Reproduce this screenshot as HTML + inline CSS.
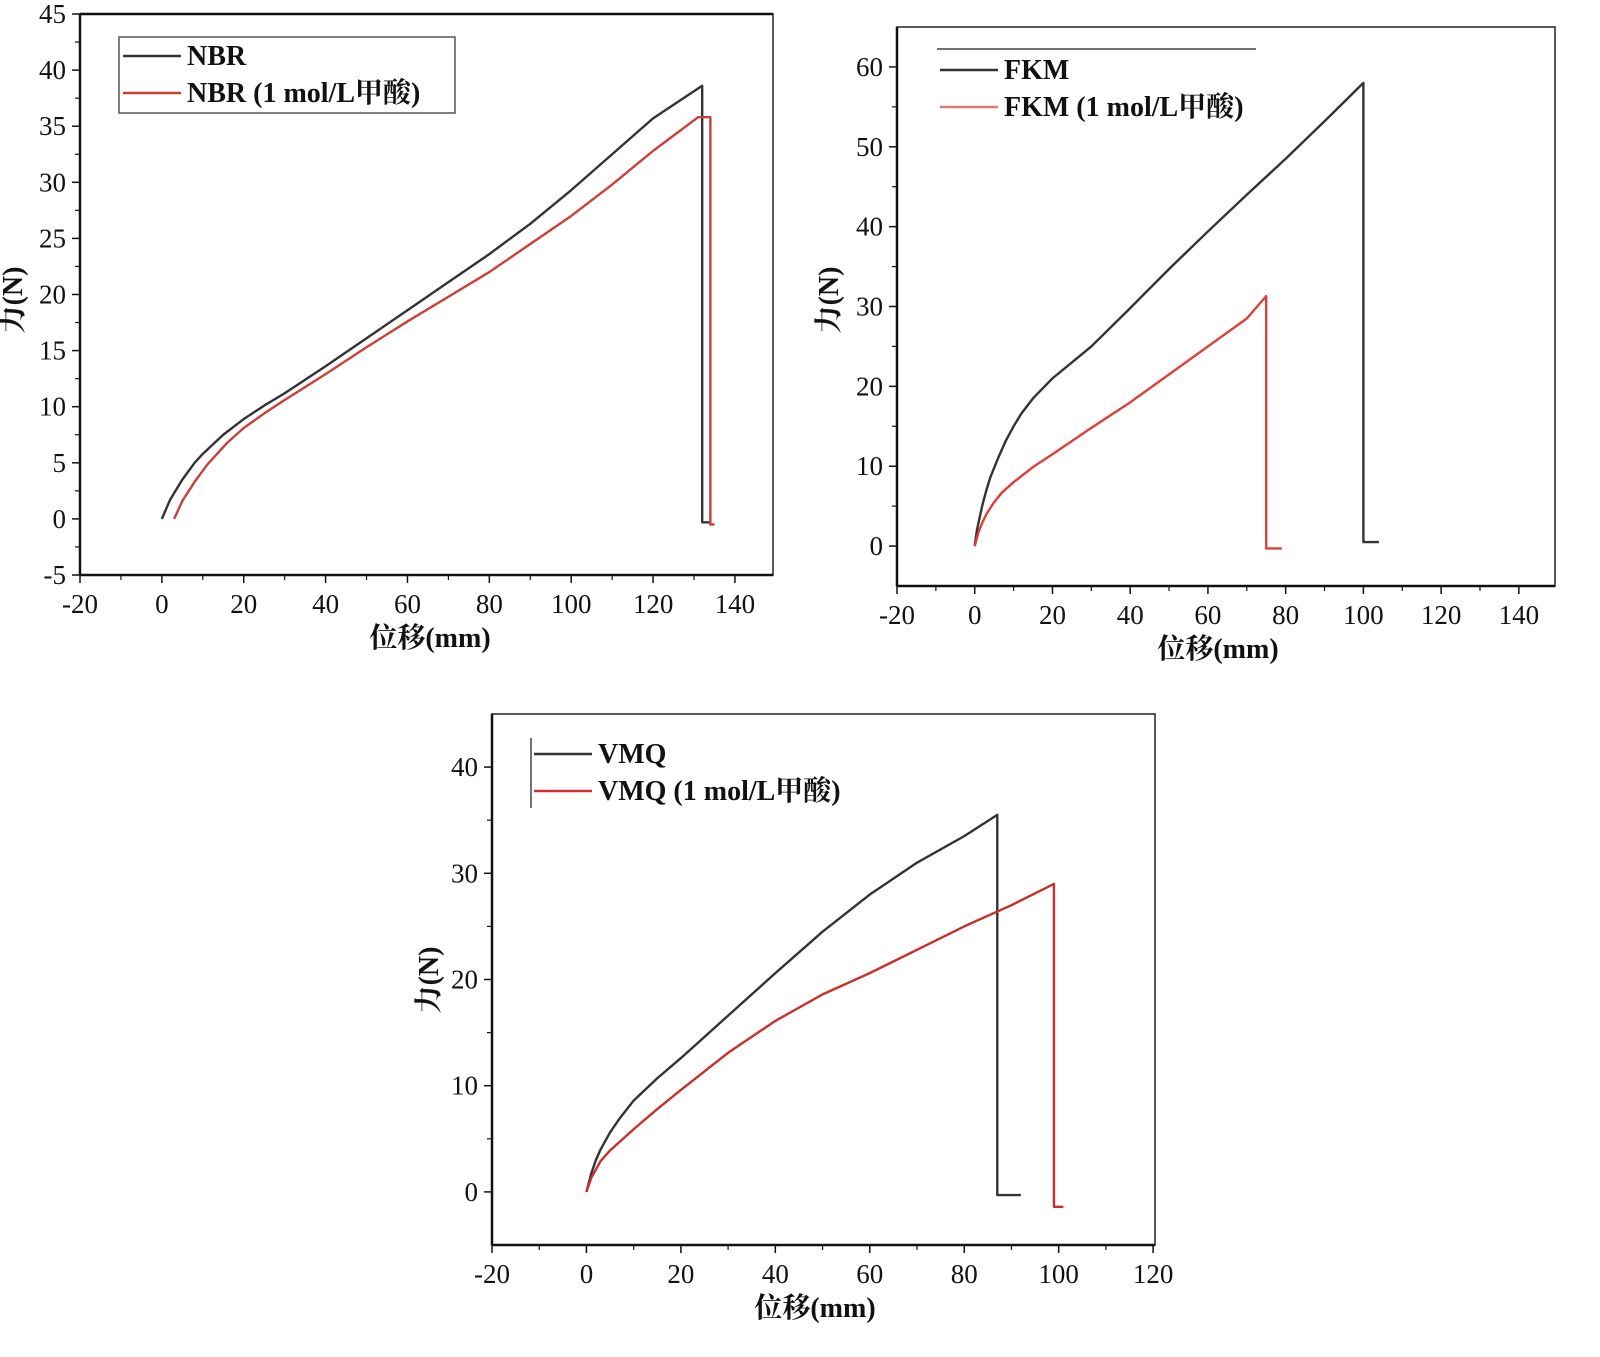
<!DOCTYPE html>
<html><head><meta charset="utf-8"><style>
body{margin:0;background:#fff}
svg{display:block}
text{font-family:"Liberation Serif","Noto Serif CJK SC",serif;fill:#111}
</style></head><body>
<svg id="s" width="1600" height="1357"></svg>
<script>
const nbrBlackX=[0,2,5,8,10,15,20,25,30,40,50,60,70,80,90,100,110,120,132,132,134];
const nbrBlackY=[0,1.7,3.5,5,5.8,7.5,8.9,10.1,11.2,13.6,16.1,18.6,21.1,23.6,26.3,29.3,32.5,35.7,38.6,-0.3,-0.3];
const nbrRedX=[3,5,8,11,13,16,20,25,30,40,50,60,70,80,90,100,110,120,131,134,134,135];
const nbrRedY=[0,1.6,3.3,4.8,5.6,6.8,8.1,9.4,10.6,12.9,15.3,17.6,19.8,22,24.5,27,29.8,32.8,35.8,35.8,-0.5,-0.5];
const fkmBlackX=[0,0.5,1,2,3,4,6,8,10,12,15,20,25,30,40,50,60,70,80,90,100,100,104];
const fkmBlackY=[0,1.8,3,5.2,7,8.6,11,13.2,15,16.6,18.5,21,23,25,29.8,34.7,39.4,44,48.5,53.2,58,0.5,0.5];
const fkmRedX=[0,1,2,3,5,7,10,15,20,30,40,50,60,70,75,75,79];
const fkmRedY=[0,1.8,3,4,5.5,6.7,8,9.9,11.5,14.8,18,21.5,25,28.5,31.3,-0.3,-0.3];
const vmqBlackX=[0,1,2,3,5,7,10,15,20,30,40,50,60,70,80,87,87,92];
const vmqBlackY=[0,1.7,3,4,5.6,6.9,8.6,10.7,12.6,16.6,20.6,24.5,28,31,33.5,35.5,-0.3,-0.3];
const vmqRedX=[0,1,3,5,10,15,20,30,40,50,60,70,80,90,99,99,101];
const vmqRedY=[0,1.3,2.9,3.9,5.9,7.8,9.6,13.1,16.1,18.6,20.6,22.8,25,27,29,-1.4,-1.4];
const nbrXTicks=[-20,0,20,40,60,80,100,120,140];
const nbrYTicks=[-5,0,5,10,15,20,25,30,35,40,45];
const fkmXTicks=[-20,0,20,40,60,80,100,120,140];
const fkmYTicks=[0,10,20,30,40,50,60];
const vmqXTicks=[-20,0,20,40,60,80,100,120];
const vmqYTicks=[0,10,20,30,40];

const S=document.getElementById('s');const NS='http://www.w3.org/2000/svg';
function el(t,a,p){const e=document.createElementNS(NS,t);for(const k in a)e.setAttribute(k,a[k]);(p||S).appendChild(e);return e;}
function chart(c){
  const g=el('g',{});
  
  
  const sx=v=>c.L+(v-c.x0)/(c.x1-c.x0)*(c.R-c.L);
  const sy=v=>c.B-(v-c.y0)/(c.y1-c.y0)*(c.B-c.T);
  const fr=el('rect',{x:c.L,y:c.T,width:c.R-c.L,height:c.B-c.T,fill:'none',stroke:'#222','stroke-width':1.5},g);
  
  
  el('line',{x1:c.L,y1:c.B,x2:c.R,y2:c.B,stroke:'#111','stroke-width':2.5},g);
  el('line',{x1:c.L,y1:c.T,x2:c.L,y2:c.B,stroke:'#111','stroke-width':2.5},g);
  if(c.topBold)el('line',{x1:c.L,y1:c.T,x2:c.R,y2:c.T,stroke:'#111','stroke-width':2.5},g);
  c.xt.forEach((v,i)=>{const x=sx(v);
    el('line',{x1:x,y1:c.B,x2:x,y2:c.B+8,stroke:'#111','stroke-width':1.5},g);
    if(i<c.xt.length-1){const m=sx(v+(c.xt[1]-c.xt[0])/2);el('line',{x1:m,y1:c.B,x2:m,y2:c.B+5,stroke:'#111','stroke-width':1.2},g);}
    const t=el('text',{x:x,y:c.B+38,'font-size':27,'text-anchor':'middle'},g);t.textContent=v;
    
    });
  c.yt.forEach((v,i)=>{const y=sy(v);
    el('line',{x1:c.L-8,y1:y,x2:c.L,y2:y,stroke:'#111','stroke-width':1.5},g);
    if(i<c.yt.length-1){const m=sy(v+(c.yt[1]-c.yt[0])/2);if(m>c.T)el('line',{x1:c.L-5,y1:m,x2:c.L,y2:m,stroke:'#111','stroke-width':1.2},g);}
    const t=el('text',{x:c.L-14,y:y+9,'font-size':27,'text-anchor':'end'},g);t.textContent=v;
    
    });
  const xl=el('text',{x:c.xlx,y:c.B+72,'font-size':28,'font-weight':'bold','text-anchor':'middle'},g);xl.textContent='位移(mm)';
  
  
  const yl=el('text',{transform:`translate(${c.ylx},${c.yly}) rotate(-90)`,'font-size':28,'font-weight':'bold','text-anchor':'middle'},g);yl.textContent='力(N)';
  
  
  c.series.forEach(s=>{
    const p=el('polyline',{points:s.x.map((v,i)=>sx(v)+','+sy(s.y[i])).join(' '),fill:'none',stroke:s.col,'stroke-width':2.4,'stroke-linejoin':'round'},g);
    
    });
  return g;
}
chart({name:'nbr',L:80,R:773,T:14,B:575,x0:-20,x1:149.3,y0:-5,y1:45,xt:nbrXTicks,yt:nbrYTicks,xlx:430,ylx:22,yly:300,topBold:true,
 series:[{x:nbrBlackX,y:nbrBlackY,col:'#333',n:'nbr-line'},{x:nbrRedX,y:nbrRedY,col:'#c9403a',n:'nbr-acid-line'}]});
chart({name:'fkm',L:897,R:1555,T:27,B:586,x0:-20,x1:149.3,y0:-5,y1:65,xt:fkmXTicks,yt:fkmYTicks,xlx:1218,ylx:838,yly:300,
 series:[{x:fkmBlackX,y:fkmBlackY,col:'#333',n:'fkm-line'},{x:fkmRedX,y:fkmRedY,col:'#d9413a',n:'fkm-acid-line'}]});
chart({name:'vmq',L:492,R:1155,T:714,B:1245,x0:-20,x1:120.4,y0:-5,y1:45,xt:vmqXTicks,yt:vmqYTicks,xlx:815,ylx:438,yly:980,
 series:[{x:vmqBlackX,y:vmqBlackY,col:'#333',n:'vmq-line'},{x:vmqRedX,y:vmqRedY,col:'#c9302a',n:'vmq-acid-line'}]});
function legend(name,lx,ys,labels,cols){
  const g=el('g',{});
  
  
  labels.forEach((l,i)=>{
    el('line',{x1:lx,y1:ys[i],x2:lx+58,y2:ys[i],stroke:cols[i],'stroke-width':2.5},g);
    const t=el('text',{x:lx+64,y:ys[i]+9,'font-size':28,'font-weight':'bold'},g);t.textContent=l;
    
    });
  return g;
}
const b=el('rect',{x:119,y:37,width:336,height:76,fill:'#fff',stroke:'#555','stroke-width':1.5});


legend('nbr-legend',123,[56,93],['NBR','NBR (1 mol/L甲酸)'],['#333','#c9403a']);
el('line',{x1:937,y1:49,x2:1256,y2:49,stroke:'#444','stroke-width':1.5});
legend('fkm-legend',940,[70,107],['FKM','FKM (1 mol/L甲酸)'],['#333','#e07a75']);
el('line',{x1:531,y1:738,x2:531,y2:808,stroke:'#444','stroke-width':1.5});
legend('vmq-legend',534,[754,791],['VMQ','VMQ (1 mol/L甲酸)'],['#333','#c9302a']);
</script>
</body></html>
